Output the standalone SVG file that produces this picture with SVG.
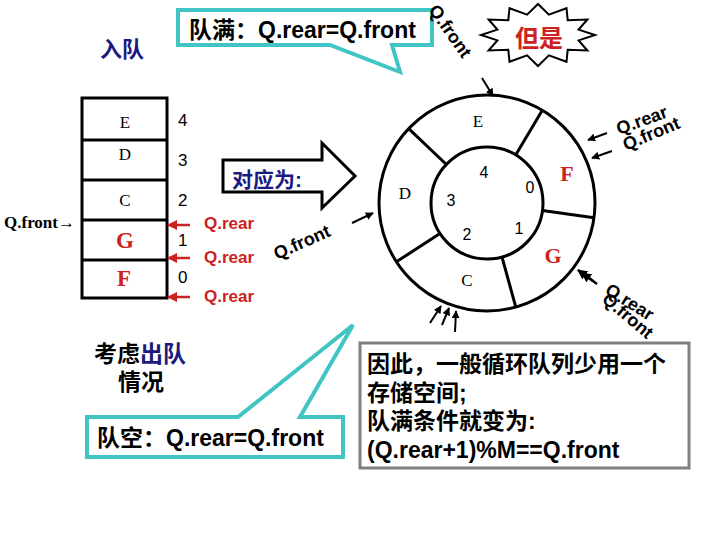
<svg xmlns="http://www.w3.org/2000/svg" width="720" height="540" viewBox="0 0 720 540">
<style>
.cjk{font-family:"Liberation Sans","Noto Sans CJK SC",sans-serif;font-weight:bold;}
.sans{font-family:"Liberation Sans",sans-serif;}
.serif{font-family:"Liberation Serif",serif;}
.blk{fill:#000;}
.blue{fill:#1a1a80;}
.red{fill:#cc2222;}
.ln{stroke:#000;stroke-width:3;fill:none;}
.teal{fill:#fff;stroke:#40c4c4;stroke-width:4;}
.rl{font-family:"Liberation Sans",sans-serif;font-weight:bold;font-size:18px;fill:#000;}
</style>
<defs>
<marker id="ah" viewBox="0 0 10 10" refX="9" refY="5" markerWidth="4" markerHeight="4" orient="auto"><path d="M0,0 L10,5 L0,10 z" fill="#000"/></marker>
<marker id="ahr" viewBox="0 0 10 10" refX="9" refY="5" markerWidth="4" markerHeight="4" orient="auto"><path d="M0,0 L10,5 L0,10 z" fill="#cc2222"/></marker>
</defs>
<rect width="720" height="540" fill="#fff"/>

<g id="label-enqueue"><text x="100" y="57" class="cjk blue" font-size="22">入队</text></g>

<g id="callout-full">
<path class="teal" d="M178,10 H432 V45 H392 L400,72 L330,45 H178 Z"/>
<text x="189" y="38" class="cjk blk" font-size="23">队满：Q.rear=Q.front</text>
</g>

<g id="starburst">
<polygon points="595,35 578.6,40.4 587.4,50.5 567.7,49.8 566.5,61.8 548.9,55.3 538,66 527.1,55.3 509.5,61.8 508.3,49.8 488.6,50.5 497.4,40.4 481,35 497.4,29.6 488.6,19.5 508.3,20.2 509.5,8.2 527.1,14.7 538,4 548.9,14.7 566.5,8.2 567.7,20.2 587.4,19.5 578.6,29.6" fill="#fff" stroke="#000" stroke-width="2"/>
<text x="539" y="47" text-anchor="middle" class="cjk red" font-size="24">但是</text>
</g>

<g id="array">
<rect x="82" y="98" width="85" height="200" class="ln"/>
<line x1="82" y1="140" x2="167" y2="140" class="ln"/>
<line x1="82" y1="180" x2="167" y2="180" class="ln"/>
<line x1="82" y1="220" x2="167" y2="220" class="ln"/>
<line x1="82" y1="260" x2="167" y2="260" class="ln"/>
<text x="125" y="128" text-anchor="middle" class="serif blk" font-size="17">E</text>
<text x="125" y="160" text-anchor="middle" class="serif blk" font-size="17">D</text>
<text x="125" y="206" text-anchor="middle" class="serif blk" font-size="17">C</text>
<text x="125" y="248" text-anchor="middle" class="serif red" font-size="23" font-weight="bold">G</text>
<text x="124" y="286" text-anchor="middle" class="serif red" font-size="23" font-weight="bold">F</text>
<text x="178" y="126" class="sans blk" font-size="17">4</text>
<text x="178" y="166" class="sans blk" font-size="17">3</text>
<text x="178" y="206" class="sans blk" font-size="17">2</text>
<text x="178" y="246" class="sans blk" font-size="17">1</text>
<text x="178" y="283" class="sans blk" font-size="17">0</text>
<text x="4" y="228" class="serif blk" font-size="17" font-weight="bold">Q.front→</text>
<text x="204" y="229" class="sans red" font-size="17" font-weight="bold">Q.rear</text>
<text x="204" y="263" class="sans red" font-size="17" font-weight="bold">Q.rear</text>
<text x="204" y="302" class="sans red" font-size="17" font-weight="bold">Q.rear</text>
</g>

<g id="big-arrow">
<path d="M223,160 H322 V143 L355,176 L322,208 V192 H223 Z" fill="#fff" stroke="#000" stroke-width="3"/>
<text x="232" y="187" class="cjk blue" font-size="21">对应为:</text>
</g>

<g id="ring">
<circle cx="487" cy="203" r="108" class="ln"/>
<circle cx="487" cy="203" r="56" class="ln"/>
<line x1="408.7" y1="128.7" x2="446.4" y2="164.5" class="ln"/>
<line x1="542.3" y1="110.2" x2="515.7" y2="154.9" class="ln"/>
<line x1="594" y1="217.7" x2="542.5" y2="210.6" class="ln"/>
<line x1="515.8" y1="307.1" x2="502" y2="257" class="ln"/>
<line x1="396.4" y1="261.8" x2="440" y2="233.5" class="ln"/>
<text x="478" y="127" text-anchor="middle" class="serif blk" font-size="17">E</text>
<text x="405" y="199" text-anchor="middle" class="serif blk" font-size="17">D</text>
<text x="467" y="286" text-anchor="middle" class="serif blk" font-size="17">C</text>
<text x="567" y="181" text-anchor="middle" class="serif red" font-size="22" font-weight="bold">F</text>
<text x="553" y="263" text-anchor="middle" class="serif red" font-size="22" font-weight="bold">G</text>
<text x="484" y="178" text-anchor="middle" class="sans blk" font-size="16">4</text>
<text x="451" y="206" text-anchor="middle" class="sans blk" font-size="16">3</text>
<text x="467" y="240" text-anchor="middle" class="sans blk" font-size="16">2</text>
<text x="519" y="234" text-anchor="middle" class="sans blk" font-size="16">1</text>
<text x="530" y="193" text-anchor="middle" class="sans blk" font-size="16">0</text>
</g>

<g id="pointers">
<line x1="482" y1="78" x2="493" y2="96" stroke="#000" stroke-width="2" marker-end="url(#ah)"/>
<text class="rl" transform="translate(428,10) rotate(55)">Q.front</text>
<line x1="607" y1="133" x2="588" y2="140" stroke="#000" stroke-width="2" marker-end="url(#ah)"/>
<line x1="612" y1="151" x2="592" y2="158" stroke="#000" stroke-width="2" marker-end="url(#ah)"/>
<text class="rl" transform="translate(619,135) rotate(-20)">Q.rear</text>
<text class="rl" transform="translate(626,151) rotate(-23)">Q.front</text>
<line x1="352" y1="223" x2="373" y2="213" stroke="#000" stroke-width="2" marker-end="url(#ah)"/>
<text class="rl" transform="translate(277,260) rotate(-24)">Q.front</text>
<line x1="597" y1="284" x2="578" y2="270" stroke="#000" stroke-width="2.5" marker-end="url(#ah)"/>
<line x1="593" y1="281" x2="582" y2="273" stroke="#000" stroke-width="2.5" marker-end="url(#ah)"/>
<text class="rl" transform="translate(604,293) rotate(32)">Q.rear</text>
<text class="rl" transform="translate(601,301) rotate(40)">Q.front</text>
<line x1="430" y1="323" x2="441" y2="306" stroke="#000" stroke-width="2" marker-end="url(#ah)"/>
<line x1="442" y1="325" x2="449" y2="308" stroke="#000" stroke-width="2" marker-end="url(#ah)"/>
<line x1="455" y1="332" x2="456" y2="311" stroke="#000" stroke-width="2" marker-end="url(#ah)"/>
<line x1="190" y1="225" x2="168" y2="225" stroke="#cc2222" stroke-width="2.5" marker-end="url(#ahr)"/>
<line x1="190" y1="258" x2="168" y2="258" stroke="#cc2222" stroke-width="2.5" marker-end="url(#ahr)"/>
<line x1="190" y1="297" x2="168" y2="297" stroke="#cc2222" stroke-width="2.5" marker-end="url(#ahr)"/>
</g>

<g id="label-dequeue">
<text x="94" y="362" class="cjk" font-size="23"><tspan fill="#000">考虑</tspan><tspan fill="#1a1a80">出队</tspan></text>
<text x="118" y="390" class="cjk blk" font-size="23">情况</text>
</g>

<g id="callout-empty">
<path class="teal" d="M87,417 H238 L353,325 L300,417 H343 V457 H87 Z"/>
<text x="97" y="446" class="cjk blk" font-size="23">队空：Q.rear=Q.front</text>
</g>

<g id="note">
<rect x="360" y="343" width="329" height="125" fill="#fff" stroke="#808080" stroke-width="3"/>
<text class="cjk blk" font-size="23">
<tspan x="367" y="372">因此，一般循环队列少用一个</tspan>
<tspan x="367" y="401">存储空间;</tspan>
<tspan x="367" y="429">队满条件就变为:</tspan>
<tspan x="367" y="458">(Q.rear+1)%M==Q.front</tspan>
</text>
</g>
</svg>
